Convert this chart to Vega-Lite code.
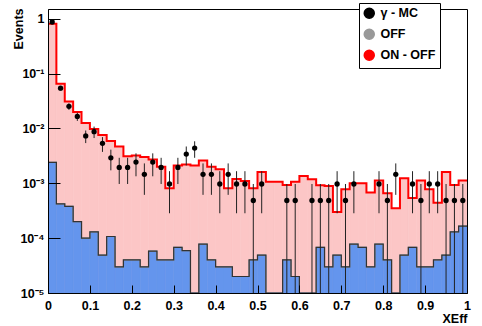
{
  "$schema": "https://vega.github.io/schema/vega-lite/v6.json",
  "width": 419,
  "height": 284,
  "autosize": {"type": "none"},
  "padding": {"left": 48, "top": 9, "right": 15, "bottom": 33},
  "background": "white",
  "config": {
    "view": {"stroke": "#000000", "strokeWidth": 1},
    "font": "Liberation Sans",
    "axis": {
      "grid": false,
      "domainColor": "#000000",
      "tickColor": "#000000",
      "tickWidth": 1,
      "labelColor": "#000000",
      "titleColor": "#000000",
      "labelFont": "Liberation Sans",
      "labelFontWeight": "bold",
      "labelFontSize": 12.5,
      "titleFont": "Liberation Sans",
      "titleFontWeight": "bold",
      "titleFontSize": 12.5,
      "labelOverlap": false,
      "labelBound": false
    },
    "legend": {
      "orient": "none",
      "legendX": 311,
      "legendY": -6,
      "fillColor": "#ffffff",
      "strokeColor": "#000000",
      "padding": 4,
      "rowPadding": 4,
      "labelOffset": 5,
      "labelFont": "Liberation Sans",
      "labelFontWeight": "bold",
      "labelFontSize": 12.5,
      "labelColor": "#000000",
      "title": null
    }
  },
  "datasets": {
    "hist": [
      {"x0": 0, "x1": 0.02, "onoff": 0.81, "off": 0.0024},
      {"x0": 0.02, "x1": 0.04, "onoff": 0.065, "off": 0.00042},
      {"x0": 0.04, "x1": 0.06, "onoff": 0.031, "off": 0.00038},
      {"x0": 0.06, "x1": 0.08, "onoff": 0.02, "off": 0.0002},
      {"x0": 0.08, "x1": 0.1, "onoff": 0.0126, "off": 0.0001},
      {"x0": 0.1, "x1": 0.12, "onoff": 0.0098, "off": 0.00013},
      {"x0": 0.12, "x1": 0.14, "onoff": 0.0076, "off": 0.000049},
      {"x0": 0.14, "x1": 0.16, "onoff": 0.0059, "off": 0.000107},
      {"x0": 0.16, "x1": 0.18, "onoff": 0.0047, "off": 0.00003},
      {"x0": 0.18, "x1": 0.2, "onoff": 0.0031, "off": 0.00004},
      {"x0": 0.2, "x1": 0.22, "onoff": 0.0032, "off": 0.00004},
      {"x0": 0.22, "x1": 0.24, "onoff": 0.003, "off": 0.00003},
      {"x0": 0.24, "x1": 0.26, "onoff": 0.0027, "off": 0.000058},
      {"x0": 0.26, "x1": 0.28, "onoff": 0.002, "off": 0.00004},
      {"x0": 0.28, "x1": 0.3, "onoff": 0.00081, "off": 0.00004},
      {"x0": 0.3, "x1": 0.32, "onoff": 0.0021, "off": 0.000068},
      {"x0": 0.32, "x1": 0.34, "onoff": 0.0022, "off": 0.000059},
      {"x0": 0.34, "x1": 0.36, "onoff": 0.0021, "off": 0.00001},
      {"x0": 0.36, "x1": 0.38, "onoff": 0.0026, "off": 0.000078},
      {"x0": 0.38, "x1": 0.4, "onoff": 0.002, "off": 0.00004},
      {"x0": 0.4, "x1": 0.42, "onoff": 0.0018, "off": 0.00003},
      {"x0": 0.42, "x1": 0.44, "onoff": 0.00081, "off": 0.00003},
      {"x0": 0.44, "x1": 0.46, "onoff": 0.0012, "off": 0.00002},
      {"x0": 0.46, "x1": 0.48, "onoff": 0.0011, "off": 0.00002},
      {"x0": 0.48, "x1": 0.5, "onoff": 0.00081, "off": 0.00004},
      {"x0": 0.5, "x1": 0.52, "onoff": 0.0016, "off": 0.000049},
      {"x0": 0.52, "x1": 0.54, "onoff": 0.00107, "off": 0.00001},
      {"x0": 0.54, "x1": 0.56, "onoff": 0.00107, "off": 0.00001},
      {"x0": 0.56, "x1": 0.58, "onoff": 0.00093, "off": 0.00004},
      {"x0": 0.58, "x1": 0.6, "onoff": 0.00107, "off": 0.00002},
      {"x0": 0.6, "x1": 0.62, "onoff": 0.00136, "off": 0.00001},
      {"x0": 0.62, "x1": 0.64, "onoff": 0.00118, "off": 0.00001},
      {"x0": 0.64, "x1": 0.66, "onoff": 0.00092, "off": 0.000068},
      {"x0": 0.66, "x1": 0.68, "onoff": 0.00089, "off": 0.00003},
      {"x0": 0.68, "x1": 0.7, "onoff": 0.0003, "off": 0.000049},
      {"x0": 0.7, "x1": 0.72, "onoff": 0.00078, "off": 0.00003},
      {"x0": 0.72, "x1": 0.74, "onoff": 0.001, "off": 0.000078},
      {"x0": 0.74, "x1": 0.76, "onoff": 0.001, "off": 0.000068},
      {"x0": 0.76, "x1": 0.78, "onoff": 0.00068, "off": 0.00003},
      {"x0": 0.78, "x1": 0.8, "onoff": 0.00112, "off": 0.000078},
      {"x0": 0.8, "x1": 0.82, "onoff": 0.00066, "off": 0.00004},
      {"x0": 0.82, "x1": 0.84, "onoff": 0.00035, "off": 0.00001},
      {"x0": 0.84, "x1": 0.86, "onoff": 0.00123, "off": 0.000049},
      {"x0": 0.86, "x1": 0.88, "onoff": 0.00054, "off": 0.000068},
      {"x0": 0.88, "x1": 0.9, "onoff": 0.00112, "off": 0.00003},
      {"x0": 0.9, "x1": 0.92, "onoff": 0.00078, "off": 0.00003},
      {"x0": 0.92, "x1": 0.94, "onoff": 0.00044, "off": 0.00004},
      {"x0": 0.94, "x1": 0.96, "onoff": 0.0016, "off": 0.000049},
      {"x0": 0.96, "x1": 0.98, "onoff": 0.00093, "off": 0.00013},
      {"x0": 0.98, "x1": 1, "onoff": 0.00112, "off": 0.000166}
    ],
    "mc": [
      {"xc": 0.01, "v": 0.87, "lo": 0.85, "hi": 0.89},
      {"xc": 0.03, "v": 0.054, "lo": 0.0489, "hi": 0.0591},
      {"xc": 0.05, "v": 0.0252, "lo": 0.0217, "hi": 0.0287},
      {"xc": 0.07, "v": 0.0165, "lo": 0.0137, "hi": 0.0193},
      {"xc": 0.09, "v": 0.00728, "lo": 0.0054, "hi": 0.00915},
      {"xc": 0.11, "v": 0.00873, "lo": 0.00667, "hi": 0.0108},
      {"xc": 0.13, "v": 0.00534, "lo": 0.00373, "hi": 0.00694},
      {"xc": 0.15, "v": 0.00291, "lo": 0.00172, "hi": 0.0041},
      {"xc": 0.17, "v": 0.00194, "lo": 0.00097, "hi": 0.00291},
      {"xc": 0.19, "v": 0.00194, "lo": 0.00097, "hi": 0.00291},
      {"xc": 0.21, "v": 0.00243, "lo": 0.00134, "hi": 0.00351},
      {"xc": 0.23, "v": 0.001455, "lo": 0.000615, "hi": 0.0023},
      {"xc": 0.25, "v": 0.00243, "lo": 0.00134, "hi": 0.00351},
      {"xc": 0.27, "v": 0.00194, "lo": 0.00097, "hi": 0.00291},
      {"xc": 0.29, "v": 0.00097, "lo": 0.000284, "hi": 0.00166},
      {"xc": 0.31, "v": 0.00194, "lo": 0.00097, "hi": 0.00291},
      {"xc": 0.33, "v": 0.0034, "lo": 0.00211, "hi": 0.00468},
      {"xc": 0.35, "v": 0.00437, "lo": 0.00291, "hi": 0.00582},
      {"xc": 0.37, "v": 0.001455, "lo": 0.000615, "hi": 0.0023},
      {"xc": 0.39, "v": 0.001455, "lo": 0.000615, "hi": 0.0023},
      {"xc": 0.41, "v": 0.00097, "lo": 0.000284, "hi": 0.00166},
      {"xc": 0.43, "v": 0.001455, "lo": 0.000615, "hi": 0.0023},
      {"xc": 0.45, "v": 0.00097, "lo": 0.000284, "hi": 0.00166},
      {"xc": 0.47, "v": 0.00097, "lo": 0.000284, "hi": 0.00166},
      {"xc": 0.49, "v": 0.000485, "lo": 0.000001, "hi": 0.00097},
      {"xc": 0.51, "v": 0.00097, "lo": 0.000284, "hi": 0.00166},
      {"xc": 0.57, "v": 0.000485, "lo": 0.000001, "hi": 0.00097},
      {"xc": 0.59, "v": 0.000485, "lo": 0.000001, "hi": 0.00097},
      {"xc": 0.63, "v": 0.000485, "lo": 0.000001, "hi": 0.00097},
      {"xc": 0.65, "v": 0.000485, "lo": 0.000001, "hi": 0.00097},
      {"xc": 0.67, "v": 0.000485, "lo": 0.000001, "hi": 0.00097},
      {"xc": 0.69, "v": 0.00097, "lo": 0.000284, "hi": 0.00166},
      {"xc": 0.71, "v": 0.000485, "lo": 0.000001, "hi": 0.00097},
      {"xc": 0.73, "v": 0.00097, "lo": 0.000284, "hi": 0.00166},
      {"xc": 0.79, "v": 0.00097, "lo": 0.000284, "hi": 0.00166},
      {"xc": 0.81, "v": 0.000485, "lo": 0.000001, "hi": 0.00097},
      {"xc": 0.83, "v": 0.001455, "lo": 0.000615, "hi": 0.0023},
      {"xc": 0.87, "v": 0.00097, "lo": 0.000284, "hi": 0.00166},
      {"xc": 0.89, "v": 0.000485, "lo": 0.000001, "hi": 0.00097},
      {"xc": 0.91, "v": 0.00097, "lo": 0.000284, "hi": 0.00166},
      {"xc": 0.93, "v": 0.00097, "lo": 0.000284, "hi": 0.00166},
      {"xc": 0.95, "v": 0.000485, "lo": 0.000001, "hi": 0.00097},
      {"xc": 0.97, "v": 0.000485, "lo": 0.000001, "hi": 0.00097},
      {"xc": 0.99, "v": 0.000485, "lo": 0.000001, "hi": 0.00097}
    ]
  },
  "layer": [
    {
      "data": {"name": "hist"},
      "mark": {"type": "bar", "fill": "#fcc6c6", "stroke": "#fcc6c6", "strokeWidth": 0.6, "clip": true},
      "encoding": {
        "x": {
          "field": "x0", "type": "quantitative",
          "scale": {"domain": [0, 1], "nice": false, "zero": false},
          "axis": {
            "zindex": 1,
            "title": "XEff",
            "titleAnchor": null,
            "titleX": 419,
            "titleY": 29,
            "titleAlign": "right",
            "titleBaseline": "alphabetic",
            "values": [0, 0.1, 0.2, 0.3, 0.4, 0.5, 0.6, 0.7, 0.8, 0.9, 1],
            "labelExpr": "format(datum.value, '~g')",
            "tickSize": -8,
            "labelPadding": 14,
            "labelFlush": false,
            "labelOverlap": false
          }
        },
        "x2": {"field": "x1"},
        "y": {
          "field": "onoff", "type": "quantitative",
          "scale": {"type": "log", "domain": [0.00001, 1.5], "nice": false},
          "axis": {
            "zindex": 1,
            "title": "Events",
            "titleAnchor": null,
            "titleAngle": -90,
            "titleX": -36,
            "titleY": -1,
            "titleAlign": "right",
            "titleBaseline": "top",
            "values": [0.00001, 0.0001, 0.001, 0.01, 0.1, 1],
            "labelExpr": "round(log(datum.value)/LN10) == 0 ? '1' : round(log(datum.value)/LN10) == -1 ? '10⁻¹' : round(log(datum.value)/LN10) == -2 ? '10⁻²' : round(log(datum.value)/LN10) == -3 ? '10⁻³' : round(log(datum.value)/LN10) == -4 ? '10⁻⁴' : '10⁻⁵'",
            "tickSize": -12,
            "labelPadding": 16,
            "labelFlush": false,
            "labelOverlap": false
          }
        },
        "y2": {"datum": 0.00001}
      }
    },
    {
      "data": {"name": "hist"},
      "mark": {"type": "bar", "fill": "#6495ed", "stroke": "#6495ed", "strokeWidth": 0.6, "clip": true},
      "encoding": {
        "x": {"field": "x0", "type": "quantitative"},
        "x2": {"field": "x1"},
        "y": {"field": "off", "type": "quantitative"},
        "y2": {"datum": 0.00001}
      }
    },
    {
      "data": {"name": "hist"},
      "transform": [{"fold": ["x0", "x1"], "as": ["edge", "xpos"]}],
      "mark": {"type": "line", "strokeWidth": 2, "clip": true},
      "encoding": {
        "x": {"field": "xpos", "type": "quantitative"},
        "y": {"field": "onoff", "type": "quantitative"},
        "order": [{"field": "xpos", "type": "quantitative"}, {"field": "edge", "type": "nominal", "sort": "descending"}],
        "color": {
          "datum": "ON - OFF",
          "scale": {"domain": ["γ - MC", "OFF", "ON - OFF"], "range": ["#000000", "#999999", "#ff0000"]}
        }
      }
    },
    {
      "data": {"name": "hist"},
      "transform": [{"fold": ["x0", "x1"], "as": ["edge", "xpos"]}],
      "mark": {"type": "line", "strokeWidth": 1.2, "clip": true},
      "encoding": {
        "x": {"field": "xpos", "type": "quantitative"},
        "y": {"field": "off", "type": "quantitative"},
        "order": [{"field": "xpos", "type": "quantitative"}, {"field": "edge", "type": "nominal", "sort": "descending"}],
        "color": {"datum": "OFF"}
      }
    },
    {
      "data": {"name": "hist"},
      "transform": [{"fold": ["x0", "x1"], "as": ["edge", "xpos"]}],
      "mark": {"type": "line", "strokeWidth": 1.2, "color": "#333333", "clip": true},
      "encoding": {
        "x": {"field": "xpos", "type": "quantitative"},
        "y": {"field": "off", "type": "quantitative"},
        "order": [{"field": "xpos", "type": "quantitative"}, {"field": "edge", "type": "nominal", "sort": "descending"}]
      }
    },
    {
      "data": {"name": "mc"},
      "mark": {"type": "rule", "color": "#222222", "strokeWidth": 1, "clip": true},
      "encoding": {
        "x": {"field": "xc", "type": "quantitative"},
        "y": {"field": "lo", "type": "quantitative"},
        "y2": {"field": "hi"}
      }
    },
    {
      "data": {"name": "mc"},
      "mark": {"type": "point", "filled": true, "size": 28, "opacity": 1, "clip": true},
      "encoding": {
        "x": {"field": "xc", "type": "quantitative"},
        "y": {"field": "v", "type": "quantitative"},
        "color": {"datum": "γ - MC"}
      }
    }
  ]
}
